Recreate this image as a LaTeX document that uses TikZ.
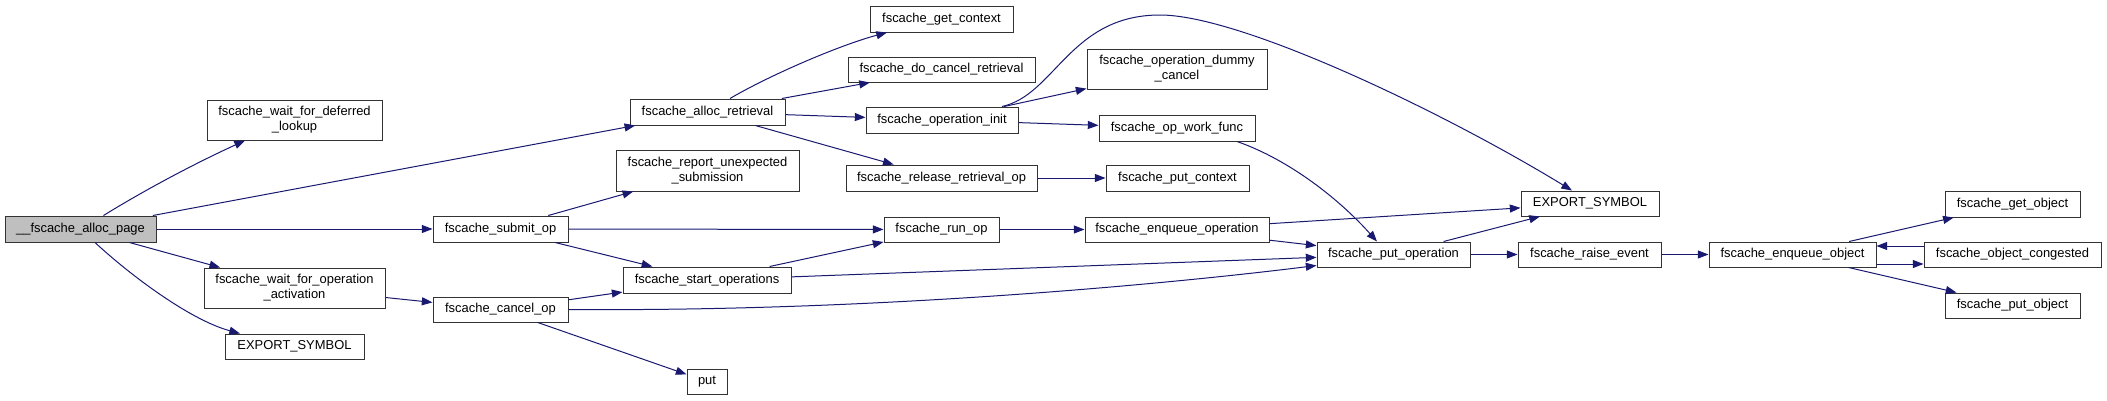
\documentclass[tikz,border=0pt]{standalone}
\usepackage{fontspec}
\setmainfont{Liberation Sans}
\usetikzlibrary{arrows.meta,calc}
\definecolor{edgec}{HTML}{191970}
\definecolor{nodeg}{HTML}{BFBFBF}
\tikzset{
  box/.style={draw=black!80, line width=0.75pt, fill=white, inner sep=0pt,
    align=center, text=black, font=\fontsize{9.7}{11.3}\selectfont},
  rootbox/.style={fill=nodeg},
  edge/.style={draw=edgec, line width=0.75pt, -{Triangle[length=8pt,width=6pt]}},
}
\newcommand\gbox[7][]{%
  \node[box,#1,minimum width={(#5-#3)*0.75pt},minimum height={(#6-#4)*0.75pt}]
    (#2) at ({(#3+#5)/2},{(#4+#6)/2}) {#7};}
\begin{document}
\begin{tikzpicture}[x=0.75pt,y=-0.75pt]
\useasboundingbox (0,0) rectangle (2107,400);
% nodes
\gbox[rootbox]{ap}{5}{216}{156}{242}{\_\_fscache\_alloc\_page}
\gbox{wdl}{207}{100}{382}{140}{fscache\_wait\_for\_deferred\\\_lookup}
\gbox{woa}{204}{268}{385}{308}{fscache\_wait\_for\_operation\\\_activation}
\gbox{esa}{225}{334}{364}{359}{EXPORT\_SYMBOL}
\gbox{ar}{630}{99}{785}{125}{fscache\_alloc\_retrieval}
\gbox{rus}{616}{150}{799}{191}{fscache\_report\_unexpected\\\_submission}
\gbox{so}{433}{216}{568}{242}{fscache\_submit\_op}
\gbox{sto}{623}{267}{791}{293}{fscache\_start\_operations}
\gbox{co}{433}{297}{568}{322}{fscache\_cancel\_op}
\gbox{pt}{687}{369}{727}{394}{put}
\gbox{gc}{870}{6}{1013}{32}{fscache\_get\_context}
\gbox{dcr}{848}{57}{1035}{82}{fscache\_do\_cancel\_retrieval}
\gbox{oi}{866}{107}{1018}{133}{fscache\_operation\_init}
\gbox{rro}{846}{165}{1037}{191}{fscache\_release\_retrieval\_op}
\gbox{odc}{1087}{49}{1267}{89}{fscache\_operation\_dummy\\\_cancel}
\gbox{owf}{1099}{115}{1255}{141}{fscache\_op\_work\_func}
\gbox{pc}{1106}{165}{1249}{191}{fscache\_put\_context}
\gbox{ro}{884}{217}{999}{242}{fscache\_run\_op}
\gbox{eqo}{1085}{217}{1269}{242}{fscache\_enqueue\_operation}
\gbox{esb}{1521}{191}{1659}{216}{EXPORT\_SYMBOL}
\gbox{po}{1317}{242}{1470}{267}{fscache\_put\_operation}
\gbox{re}{1518}{242}{1661}{267}{fscache\_raise\_event}
\gbox{eob}{1709}{242}{1876}{267}{fscache\_enqueue\_object}
\gbox{go}{1945}{191}{2080}{217}{fscache\_get\_object}
\gbox{oc}{1924}{242}{2101}{267}{fscache\_object\_congested}
\gbox{pob}{1945}{293}{2080}{318}{fscache\_put\_object}
% edges from __fscache_alloc_page
\draw[edge] ($(ap.north)+(23,0)$) .. controls (135,196) and (185,168) .. ($(wdl.south)+(-49.5,0)$);
\draw[edge] (ap) -- (ar);
\draw[edge] (ap) -- (so);
\draw[edge] (ap) -- (woa);
\draw[edge] ($(ap.south)+(14.5,0)$) .. controls (130,275) and (190,320) .. ($(esa.north)+(-54.5,0)$);
% fscache_alloc_retrieval
\draw[edge] ($(ar.north)+(22.5,0)$) .. controls (770,75) and (840,45) .. ($(gc.south)+(-54.5,0)$);
\draw[edge] (ar) -- (dcr);
\draw[edge] (ar) -- (oi);
\draw[edge] (ar) -- (rro);
% fscache_operation_init
\draw[edge] ($(oi.north)+(60,0)$) .. controls (1055,95) and (1070,15) .. (1160,15)
  .. controls (1240,15) and (1440,110) .. ($(esb.north)+(-18,0)$);
\draw[edge] (oi) -- (odc);
\draw[edge] (oi) -- (owf);
\draw[edge] ($(owf.south)+(60,0)$) .. controls (1290,160) and (1340,200) .. ($(po.north)+(-16.5,0)$);
\draw[edge] (rro) -- (pc);
% fscache_submit_op
\draw[edge] (so) -- (rus);
\draw[edge] (so) -- (ro);
\draw[edge] (so) -- (sto);
% cancel
\draw[edge] (woa) -- (co);
\draw[edge] (co) -- (sto);
\draw[edge] (co.east) .. controls (900,312) and (1200,280) .. ($(po.west)+(0,11)$);
\draw[edge] (co) -- (pt);
% start operations
\draw[edge] (sto) -- (ro);
\draw[edge] (sto) -- (po);
% run op / enqueue
\draw[edge] (ro) -- (eqo);
\draw[edge] (eqo) -- (esb);
\draw[edge] (eqo) -- (po);
% put operation
\draw[edge] (po) -- (esb);
\draw[edge] (po) -- (re);
\draw[edge] (re) -- (eob);
% enqueue object
\draw[edge] (eob) -- (go);
\draw[edge] ($(eob.east)+(0,9.5)$) -- ($(oc.west)+(0,9.5)$);
\draw[edge] ($(oc.west)+(0,-8.5)$) -- ($(eob.east)+(0,-8.5)$);
\draw[edge] (eob) -- (pob);
\end{tikzpicture}
\end{document}
